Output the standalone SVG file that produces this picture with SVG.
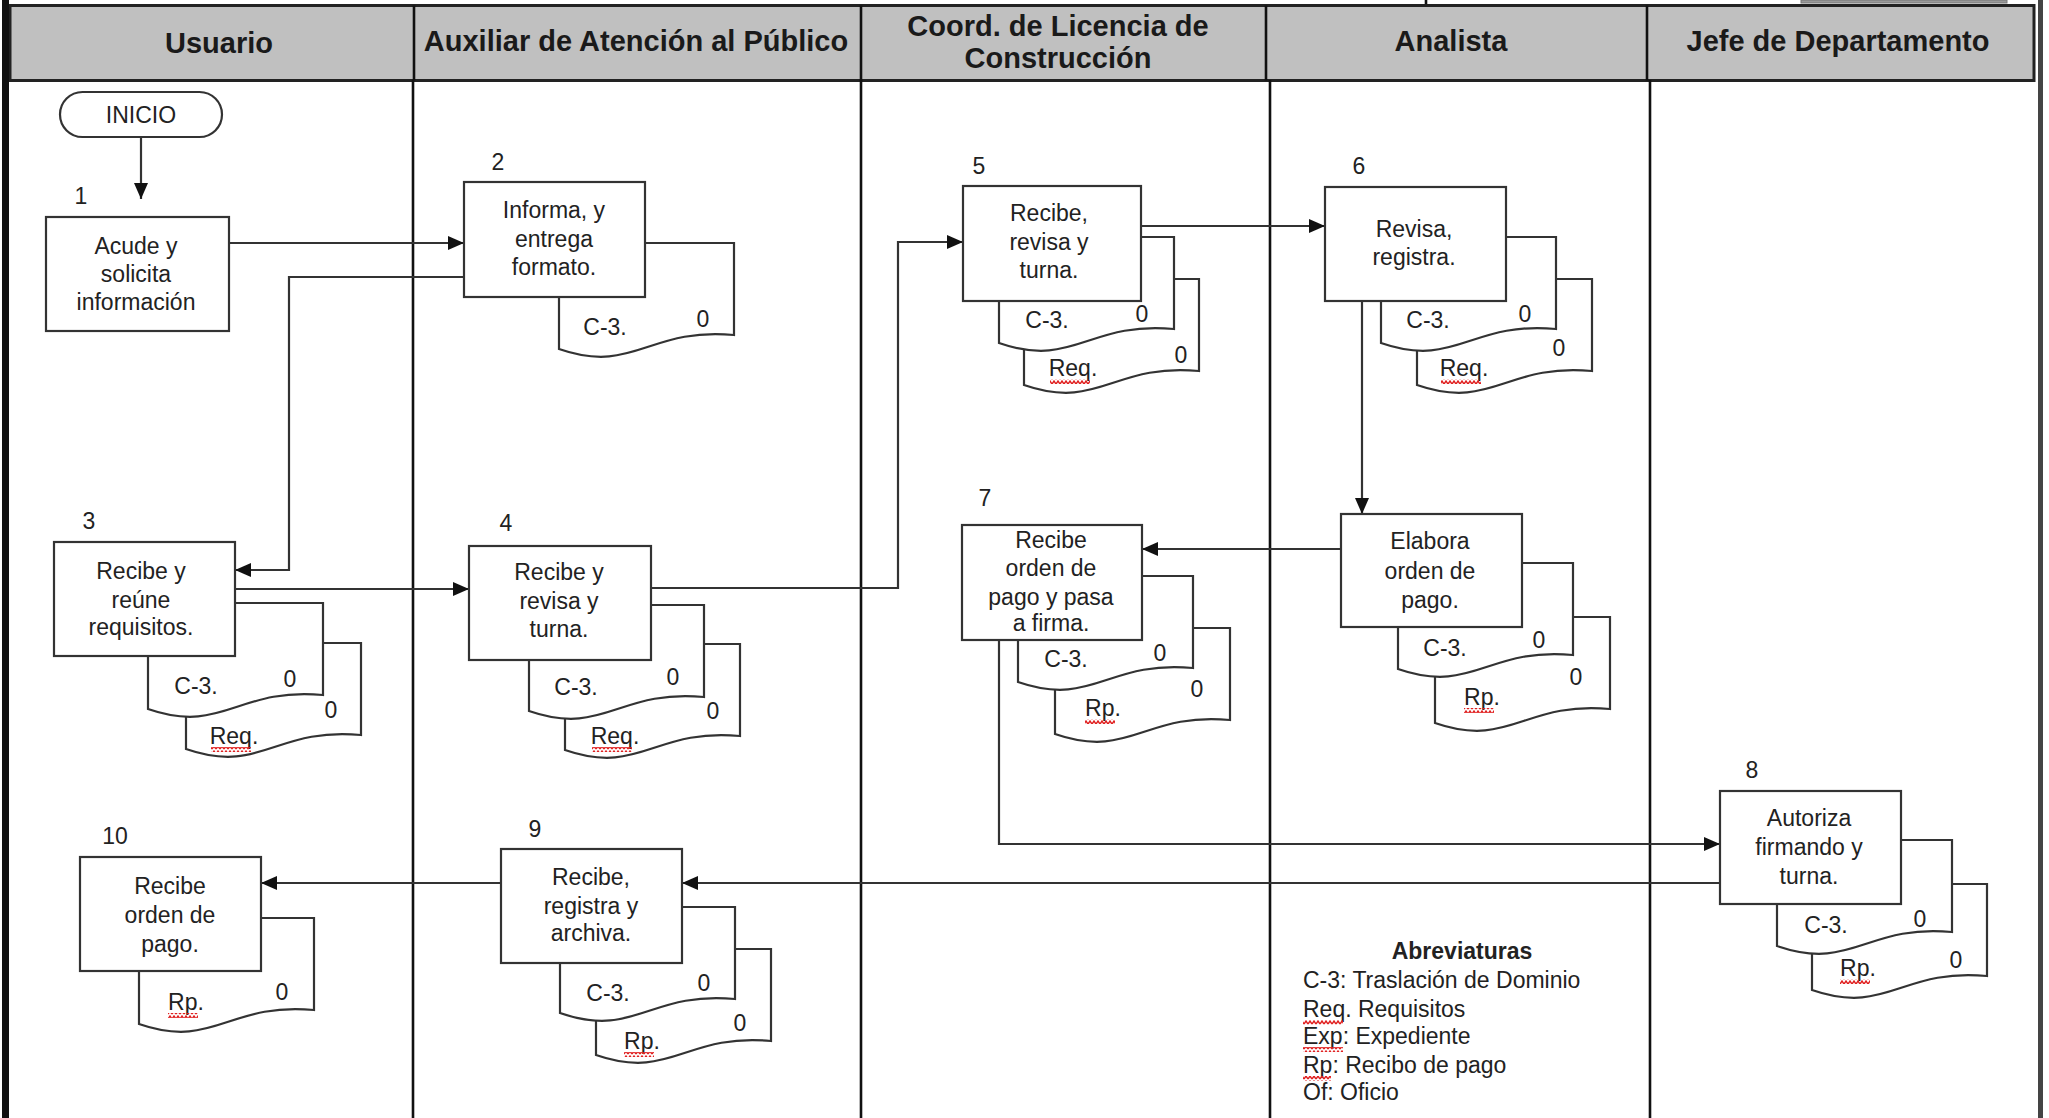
<svg xmlns="http://www.w3.org/2000/svg" width="2049" height="1118" viewBox="0 0 2049 1118">
<defs>
<style>
.t{font-family:"Liberation Sans",Arial,sans-serif;font-size:23px;fill:#222;text-anchor:middle}
.tl{font-family:"Liberation Sans",Arial,sans-serif;font-size:23px;fill:#222}
.h{font-family:"Liberation Sans",Arial,sans-serif;font-size:29px;font-weight:bold;fill:#1a1a1a;text-anchor:middle}
.b{fill:#fff;stroke:#333;stroke-width:2.2}
.d{fill:#fff;stroke:#333;stroke-width:2.2}
.c{fill:none;stroke:#333;stroke-width:2.2}
.a{fill:none;stroke:#333;stroke-width:2.2;marker-end:url(#arr)}
.ln{stroke:#111;stroke-width:2.6}
</style>
<marker id="arr" markerWidth="16" markerHeight="14" refX="16" refY="7" orient="auto" markerUnits="userSpaceOnUse">
<path d="M0,0 L16,7 L0,14 Z" fill="#111"/>
</marker>
<pattern id="sq" width="4" height="5" patternUnits="userSpaceOnUse">
<path d="M0,4 L2,1 L4,4" fill="none" stroke="#e02020" stroke-width="1.4"/>
</pattern>
</defs>

<g id="frame">
<rect x="0" y="0" width="2049" height="1118" fill="#fff"/>
<line x1="1426" y1="0" x2="1426" y2="6" class="ln"/>
<rect x="1801" y="0" width="206" height="3" fill="#999" stroke="#777" stroke-width="1"/>
<rect x="10" y="5.5" width="2024" height="75" fill="#c0c0c0" stroke="#222" stroke-width="3"/>
<line x1="414" y1="5.5" x2="414" y2="80.5" class="ln"/>
<line x1="861" y1="5.5" x2="861" y2="80.5" class="ln"/>
<line x1="1266" y1="5.5" x2="1266" y2="80.5" class="ln"/>
<line x1="1647" y1="5.5" x2="1647" y2="80.5" class="ln"/>
<line x1="413" y1="80" x2="413" y2="1118" class="ln"/>
<line x1="861" y1="80" x2="861" y2="1118" class="ln"/>
<line x1="1270" y1="80" x2="1270" y2="1118" class="ln"/>
<line x1="1650" y1="80" x2="1650" y2="1118" class="ln"/>
<rect x="2" y="0" width="7" height="1118" fill="#111"/>
<rect x="2038" y="0" width="5" height="1118" fill="#444"/>
<text class="h" x="219" y="53">Usuario</text>
<text class="h" x="636" y="51">Auxiliar de Atención al Público</text>
<text class="h" x="1058" y="36">Coord. de Licencia de</text>
<text class="h" x="1058" y="68">Construcción</text>
<text class="h" x="1451" y="51">Analista</text>
<text class="h" x="1838" y="51">Jefe de Departamento</text>
</g>

<g id="connectors">
<path class="a" d="M141,137 V199"/>
<path class="a" d="M229,243 H464"/>
<path class="a" d="M464,277 H289 V570 H235"/>
<path class="a" d="M235,589 H469"/>
<path class="a" d="M651,588 H898 V242 H963"/>
<path class="a" d="M1141,226 H1325"/>
<path class="a" d="M1362,301 V514"/>
<path class="a" d="M1341,549 H1142"/>
<path class="a" d="M999,640 V844 H1720"/>
<path class="a" d="M1720,883 H682"/>
<path class="a" d="M501,883 H261"/>
</g>

<g id="inicio">
<rect x="60" y="92" width="162" height="45" rx="22.5" class="b"/>
<text class="t" x="141" y="123" font-size="22">INICIO</text>
</g>

<g id="n1">
<text class="t" x="81" y="204">1</text>
<rect x="46" y="217" width="183" height="114" class="b"/>
<text class="t" x="136" y="254">Acude y</text>
<text class="t" x="136" y="282">solicita</text>
<text class="t" x="136" y="310">información</text>
</g>

<g id="n2">
<path class="d" d="M559,243 H734 V335 C648,327 634,375 559,349 Z"/>
<text class="t" x="605" y="335">C-3.</text>
<text class="t" x="703" y="327">0</text>
<text class="t" x="498" y="170">2</text>
<rect x="464" y="182" width="181" height="115" class="b"/>
<text class="t" x="554" y="218">Informa, y</text>
<text class="t" x="554" y="247">entrega</text>
<text class="t" x="554" y="275">formato.</text>
</g>

<g id="n3">
<path class="d" d="M186,643 H361 V735 C275,727 261,775 186,749 Z"/>
<text class="t" x="234" y="744">Req.</text>
<rect x="211" y="747" width="40" height="5" fill="url(#sq)"/>
<text class="t" x="331" y="718">0</text>
<path class="d" d="M148,603 H323 V695 C237,687 223,735 148,709 Z"/>
<text class="t" x="196" y="694">C-3.</text>
<text class="t" x="290" y="687">0</text>
<text class="t" x="89" y="529">3</text>
<rect x="54" y="542" width="181" height="114" class="b"/>
<text class="t" x="141" y="579">Recibe y</text>
<text class="t" x="141" y="608">reúne</text>
<text class="t" x="141" y="635">requisitos.</text>
</g>

<g id="n4">
<path class="d" d="M565,644 H740 V736 C654,728 640,776 565,750 Z"/>
<text class="t" x="615" y="744">Req.</text>
<rect x="592" y="747" width="40" height="5" fill="url(#sq)"/>
<text class="t" x="713" y="719">0</text>
<path class="d" d="M529,605 H704 V697 C618,689 604,737 529,711 Z"/>
<text class="t" x="576" y="695">C-3.</text>
<text class="t" x="673" y="685">0</text>
<text class="t" x="506" y="531">4</text>
<rect x="469" y="546" width="182" height="114" class="b"/>
<text class="t" x="559" y="580">Recibe y</text>
<text class="t" x="559" y="609">revisa y</text>
<text class="t" x="559" y="637">turna.</text>
</g>

<g id="n5">
<path class="d" d="M1024,279 H1199 V371 C1113,363 1099,411 1024,385 Z"/>
<text class="t" x="1073" y="376">Req.</text>
<rect x="1050" y="379" width="40" height="5" fill="url(#sq)"/>
<text class="t" x="1181" y="363">0</text>
<path class="d" d="M999,237 H1174 V329 C1088,321 1074,369 999,343 Z"/>
<text class="t" x="1047" y="328">C-3.</text>
<text class="t" x="1142" y="322">0</text>
<text class="t" x="979" y="174">5</text>
<rect x="963" y="186" width="178" height="115" class="b"/>
<text class="t" x="1049" y="221">Recibe,</text>
<text class="t" x="1049" y="250">revisa y</text>
<text class="t" x="1049" y="278">turna.</text>
</g>

<g id="n6">
<path class="d" d="M1417,279 H1592 V371 C1506,363 1492,411 1417,385 Z"/>
<text class="t" x="1464" y="376">Req.</text>
<rect x="1441" y="379" width="40" height="5" fill="url(#sq)"/>
<text class="t" x="1559" y="356">0</text>
<path class="d" d="M1381,237 H1556 V329 C1470,321 1456,369 1381,343 Z"/>
<text class="t" x="1428" y="328">C-3.</text>
<text class="t" x="1525" y="322">0</text>
<text class="t" x="1359" y="174">6</text>
<rect x="1325" y="187" width="181" height="114" class="b"/>
<text class="t" x="1414" y="237">Revisa,</text>
<text class="t" x="1414" y="265">registra.</text>
</g>

<g id="elabora">
<path class="d" d="M1435,617 H1610 V709 C1524,701 1510,749 1435,723 Z"/>
<text class="t" x="1482" y="705">Rp.</text>
<rect x="1464" y="708" width="30" height="5" fill="url(#sq)"/>
<text class="t" x="1576" y="685">0</text>
<path class="d" d="M1398,563 H1573 V655 C1487,647 1473,695 1398,669 Z"/>
<text class="t" x="1445" y="656">C-3.</text>
<text class="t" x="1539" y="648">0</text>
<rect x="1341" y="514" width="181" height="113" class="b"/>
<text class="t" x="1430" y="549">Elabora</text>
<text class="t" x="1430" y="579">orden de</text>
<text class="t" x="1430" y="608">pago.</text>
</g>

<g id="n7">
<path class="d" d="M1055,628 H1230 V720 C1144,712 1130,760 1055,734 Z"/>
<text class="t" x="1103" y="716">Rp.</text>
<rect x="1085" y="719" width="30" height="5" fill="url(#sq)"/>
<text class="t" x="1197" y="697">0</text>
<path class="d" d="M1018,576 H1193 V668 C1107,660 1093,708 1018,682 Z"/>
<text class="t" x="1066" y="667">C-3.</text>
<text class="t" x="1160" y="661">0</text>
<text class="t" x="985" y="506">7</text>
<rect x="962" y="525" width="180" height="115" class="b"/>
<text class="t" x="1051" y="548">Recibe</text>
<text class="t" x="1051" y="576">orden de</text>
<text class="t" x="1051" y="605">pago y pasa</text>
<text class="t" x="1051" y="631">a firma.</text>
</g>

<g id="n8">
<path class="d" d="M1812,884 H1987 V976 C1901,968 1887,1016 1812,990 Z"/>
<text class="t" x="1858" y="976">Rp.</text>
<rect x="1840" y="979" width="30" height="5" fill="url(#sq)"/>
<text class="t" x="1956" y="968">0</text>
<path class="d" d="M1777,840 H1952 V932 C1866,924 1852,972 1777,946 Z"/>
<text class="t" x="1826" y="933">C-3.</text>
<text class="t" x="1920" y="927">0</text>
<text class="t" x="1752" y="778">8</text>
<rect x="1720" y="791" width="181" height="113" class="b"/>
<text class="t" x="1809" y="826">Autoriza</text>
<text class="t" x="1809" y="855">firmando y</text>
<text class="t" x="1809" y="884">turna.</text>
</g>

<g id="n9">
<path class="d" d="M596,949 H771 V1041 C685,1033 671,1081 596,1055 Z"/>
<text class="t" x="642" y="1049">Rp.</text>
<rect x="624" y="1052" width="30" height="5" fill="url(#sq)"/>
<text class="t" x="740" y="1031">0</text>
<path class="d" d="M560,907 H735 V999 C649,991 635,1039 560,1013 Z"/>
<text class="t" x="608" y="1001">C-3.</text>
<text class="t" x="704" y="991">0</text>
<text class="t" x="535" y="837">9</text>
<rect x="501" y="849" width="181" height="114" class="b"/>
<text class="t" x="591" y="885">Recibe,</text>
<text class="t" x="591" y="914">registra y</text>
<text class="t" x="591" y="941">archiva.</text>
</g>

<g id="n10">
<path class="d" d="M139,918 H314 V1010 C228,1002 214,1050 139,1024 Z"/>
<text class="t" x="186" y="1010">Rp.</text>
<rect x="168" y="1013" width="30" height="5" fill="url(#sq)"/>
<text class="t" x="282" y="1000">0</text>
<text class="t" x="115" y="844">10</text>
<rect x="80" y="857" width="181" height="114" class="b"/>
<text class="t" x="170" y="894">Recibe</text>
<text class="t" x="170" y="923">orden de</text>
<text class="t" x="170" y="952">pago.</text>
</g>

<g id="abreviaturas">
<text class="t" x="1462" y="959" font-weight="bold">Abreviaturas</text>
<text class="tl" x="1303" y="988">C-3: Traslación de Dominio</text>
<text class="tl" x="1303" y="1017">Req. Requisitos</text>
<rect x="1303" y="1020" width="40" height="5" fill="url(#sq)"/>
<text class="tl" x="1303" y="1044">Exp: Expediente</text>
<rect x="1303" y="1047" width="40" height="5" fill="url(#sq)"/>
<text class="tl" x="1303" y="1073">Rp: Recibo de pago</text>
<rect x="1303" y="1076" width="28" height="5" fill="url(#sq)"/>
<text class="tl" x="1303" y="1100">Of: Oficio</text>
</g>
</svg>
